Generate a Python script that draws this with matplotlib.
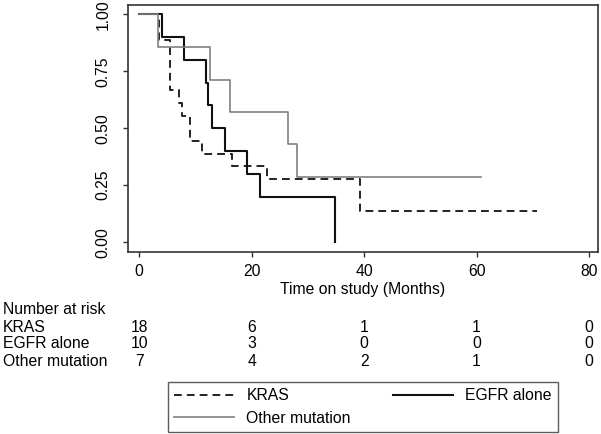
import numpy as np
import matplotlib
matplotlib.use("Agg")
import matplotlib.pyplot as plt
from matplotlib.lines import Line2D
from matplotlib.transforms import blended_transform_factory

plt.rcParams['font.family'] = ['Liberation Sans', 'DejaVu Sans']

# Kaplan-Meier step curves (months, survival)
kras_t = [0, 3.5, 5.5, 7.0, 7.6, 9.1, 11.1, 16.5, 22.7, 39.2, 70.8]
kras_s = [1, 0.889, 0.667, 0.611, 0.556, 0.444, 0.389, 0.333, 0.278, 0.139, 0.139]
egfr_t = [0, 4.1, 8.0, 11.8, 12.2, 12.9, 15.2, 19.1, 21.5, 34.9]
egfr_s = [1, 0.9, 0.8, 0.7, 0.6, 0.5, 0.4, 0.3, 0.2, 0.0]
other_t = [0, 3.25, 12.5, 16.2, 26.4, 28.0, 60.8]
other_s = [1, 0.857, 0.714, 0.571, 0.429, 0.286, 0.286]

risk_times = [0, 20, 40, 60, 80]
risk_groups = ["KRAS", "EGFR alone", "Other mutation"]
risk_counts = [[18, 6, 1, 1, 0],
               [10, 3, 0, 0, 0],
               [7, 4, 2, 1, 0]]

xticks = [0, 20, 40, 60, 80]
yticks = [0, 0.25, 0.5, 0.75, 1.0]

W, H = 601, 434
fs = 11.3
fig = plt.figure(figsize=(W / 100, H / 100), dpi=100)
ax = fig.add_axes([128 / W, 1 - 252 / H, 470 / W, 247 / H])

frame = '#333333'
l_kras, = ax.step(kras_t, kras_s, where='post', color='#222222', lw=1.4,
                  linestyle=(0, (4, 2.6)))
l_egfr, = ax.step(egfr_t, egfr_s, where='post', color='#111111', lw=1.5)
l_other, = ax.step(other_t, other_s, where='post', color='#808080', lw=1.2)

ax.set_xlim(-2, 81.6)
ax.set_ylim(-0.043, 1.041)
ax.set_xticks(xticks)
ax.set_xticklabels([str(v) for v in xticks])
ax.set_yticks(yticks)
ax.set_yticklabels(["%.2f" % v for v in yticks], rotation=90, va='center')
ax.tick_params(axis='both', length=3.5, width=1, color=frame, labelsize=fs)
ax.tick_params(axis='x', pad=5)
ax.tick_params(axis='y', pad=9)
for sp in ax.spines.values():
    sp.set_color(frame)
    sp.set_linewidth(1.2)
ax.set_xlabel("Time on study (Months)", fontsize=fs, labelpad=2)

# number at risk table
tr = blended_transform_factory(ax.transData, fig.transFigure)
fig.text(3 / W, 1 - 310 / H, "Number at risk", fontsize=fs, va='center')
row_y = [327, 344, 361]
for name, counts, y in zip(risk_groups, risk_counts, row_y):
    fig.text(3 / W, 1 - y / H, name, fontsize=fs, va='center')
    for t, n in zip(risk_times, counts):
        ax.text(t, 1 - y / H, str(n), transform=tr, fontsize=fs,
                ha='center', va='center', clip_on=False)

handles = [Line2D([], [], color='#222222', lw=1.4, linestyle=(0, (4, 2.6))),
           Line2D([], [], color='#808080', lw=1.2),
           Line2D([], [], color='#111111', lw=1.5)]
labels = ["KRAS", "Other mutation", "EGFR alone"]
leg = fig.legend(handles, labels, ncol=2, loc='lower left',
                 bbox_to_anchor=(168 / W, 2 / H, 390 / W, 53 / H),
                 mode='expand', handlelength=3.8, handletextpad=0.8,
                 borderaxespad=0, borderpad=0.4, labelspacing=0.48,
                 fontsize=fs, frameon=True, fancybox=False)
leg.get_frame().set_edgecolor(frame)
leg.get_frame().set_linewidth(1.0)

fig.savefig("out.png", dpi=100)
